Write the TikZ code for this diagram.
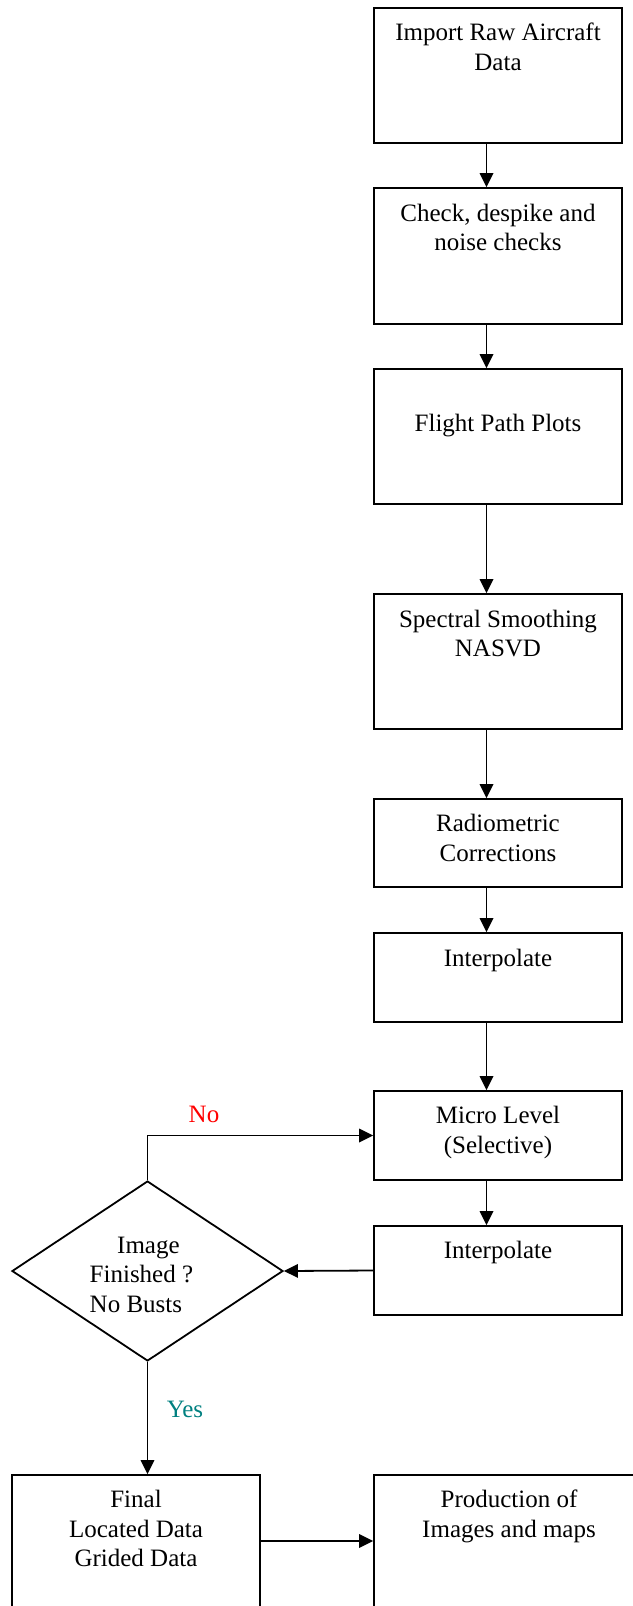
\documentclass[tikz,border=0pt]{standalone}
\usepackage{fontspec}
\setmainfont{Liberation Serif}
\usetikzlibrary{arrows.meta,shapes.geometric}
\newcommand{\stk}[1]{\begin{tabular}[t]{@{}c@{}}#1\end{tabular}}
\definecolor{noRed}{RGB}{255,0,0}
\definecolor{yesTeal}{RGB}{0,128,128}
\begin{document}
\begin{tikzpicture}[x=1pt,y=-1pt,
  box/.style={draw, line width=1.8pt, rectangle, inner sep=0pt, minimum width=248pt},
  txt/.style={anchor=base, inner sep=0pt, font=\fontsize{25}{29.5}\selectfont},
  arr/.style={line width=1.8pt, -{Triangle[length=14pt,width=13.5pt]}}]
\useasboundingbox (0,0) rectangle (632,1606);
% boxes
\node[box, minimum height=135pt] (b1) at (498,75.5) {};
\node[box, minimum height=136pt] (b2) at (498,256) {};
\node[box, minimum height=135pt] (b3) at (498,436.5) {};
\node[box, minimum height=135pt] (b4) at (498,661.5) {};
\node[box, minimum height=88pt] (b5) at (498,843) {};
\node[box, minimum height=89pt] (b6) at (498,977.5) {};
\node[box, minimum height=89pt] (b7) at (498,1135.5) {};
\node[box, minimum height=89pt] (b8) at (498,1270.5) {};
\node[draw, diamond, line width=1.8pt, inner sep=0pt, minimum width=271pt, minimum height=180pt] (d) at (147.5,1271) {};
\node[box, minimum width=248pt, minimum height=150pt] (b9) at (136,1550) {};
\node[box, minimum width=270pt, minimum height=150pt] (b10) at (509,1550) {};
% texts
\node[txt] (t1) at (498,40.5) {\stk{Import Raw Aircraft\\Data}};
\node[txt] (t2) at (498,221) {\stk{Check, despike and\\noise checks}};
\node[txt] (t3) at (498,431.5) {\stk{Flight Path Plots}};
\node[txt] (t4) at (498,627) {\stk{Spectral Smoothing\\NASVD}};
\node[txt] (t5) at (498,831.5) {\stk{Radiometric\\Corrections}};
\node[txt] (t6) at (498,966) {\stk{Interpolate}};
\node[txt] (t7) at (498,1123.5) {\stk{Micro Level\\(Selective)}};
\node[txt] (t8) at (498,1258.5) {\stk{Interpolate}};
\node[txt, anchor=base west] (td) at (89.5,1253) {\begin{tabular}[t]{@{}l@{}}\hspace*{27.5pt}Image\\Finished ?\\No Busts\end{tabular}};
\node[txt] (t9) at (136,1507.5) {\stk{Final\\Located Data\\Grided Data}};
\node[txt] (t10) at (509,1507.5) {\stk{Production of\\Images and maps}};
\node[txt, text=noRed] (lno) at (204,1122.5) {No};
\node[txt, text=yesTeal] (lyes) at (185,1417.5) {Yes};
% connectors
\draw[arr] ([xshift=-11.5pt]b1.south) -- ([xshift=-11.5pt]b2.north);
\draw[arr] ([xshift=-11.5pt]b2.south) -- ([xshift=-11.5pt]b3.north);
\draw[arr] ([xshift=-11.5pt]b3.south) -- ([xshift=-11.5pt]b4.north);
\draw[arr] ([xshift=-11.5pt]b4.south) -- ([xshift=-11.5pt]b5.north);
\draw[arr] ([xshift=-11.5pt]b5.south) -- ([xshift=-11.5pt]b6.north);
\draw[arr] ([xshift=-11.5pt]b6.south) -- ([xshift=-11.5pt]b7.north);
\draw[arr] ([xshift=-11.5pt]b7.south) -- ([xshift=-11.5pt]b8.north);
\draw[arr] (b8.west) -- (d.east);
\draw[arr] (d.north) |- (b7.west);
\draw[arr] (d.south) -- (d.south |- b9.north);
\coordinate (ya) at (0,1541);
\draw[arr] (b9.east |- ya) -- (b10.west |- ya);
\end{tikzpicture}
\end{document}
